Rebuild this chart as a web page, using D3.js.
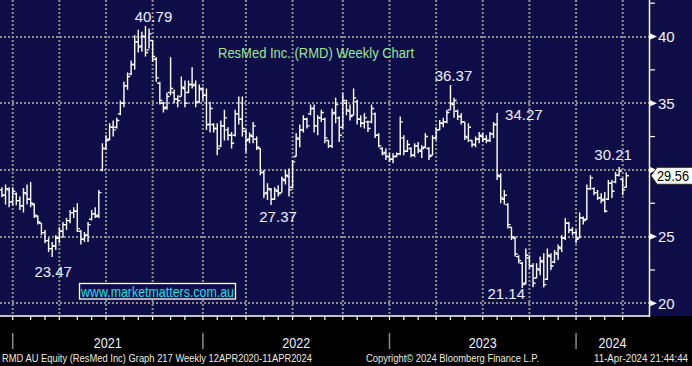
<!DOCTYPE html>
<html><head><meta charset="utf-8">
<script src="https://cdn.jsdelivr.net/npm/d3@7"></script>
<style>html,body{margin:0;padding:0;background:#000;} svg{display:block;}</style>
</head><body>
<svg id="c" width="692" height="366"></svg>
<script>
// ---------------- DATA ----------------
const startDate = "2020-12-11";   // first weekly bar (Friday)
const highs = [28.7,28.9,28.7,28.7,28.3,28.0,28.65,28.9,29.1,27.5,26.6,26.0,25.5,24.9,24.6,25.1,25.7,26.1,26.4,27.0,27.2,27.5,25.5,25.35,26.1,27.0,27.2,28.5,32.0,32.6,33.5,33.7,33.9,35.2,36.6,37.3,38.2,40.1,40.5,40.35,40.79,40.6,39.7,38.45,36.6,35.1,35.8,38.45,36.0,35.6,37.0,36.7,36.7,37.7,36.7,36.4,36.2,36.1,35.1,33.5,33.5,33.7,34.5,33.2,32.85,34.5,35.5,35.5,33.0,32.8,33.6,32.5,31.65,30.0,29.0,28.65,28.7,28.85,29.5,30.0,30.1,30.75,32.75,33.4,34.1,33.9,34.9,34.9,34.1,34.5,33.9,32.25,34.6,35.4,34.0,35.75,35.25,34.9,36.1,35.25,34.1,34.25,33.7,34.9,34.3,32.75,31.7,31.6,31.25,31.25,31.3,34.0,32.6,32.25,31.7,32.0,32.1,31.85,32.75,31.7,32.6,33.2,33.75,33.9,34.5,36.37,35.4,34.5,34.25,33.6,33.5,32.25,32.5,32.85,32.75,32.6,32.85,33.6,34.27,29.75,28.5,27.5,25.7,25.0,23.6,23.1,24.1,23.6,23.0,23.0,23.5,23.75,24.1,23.75,24.0,24.4,25.1,26.4,26.1,25.7,25.5,26.8,26.5,28.9,29.6,28.7,28.5,28.25,28.35,29.25,29.25,29.85,30.21,29.4,29.8];
const lows = [27.95,27.4,27.2,27.35,27.35,27.0,26.8,27.4,27.2,26.4,25.9,25.1,24.5,23.85,23.47,24.0,24.5,24.9,25.5,26.0,26.4,25.35,24.4,24.6,24.6,26.2,26.4,26.4,29.9,31.5,32.2,32.5,33.1,34.1,34.7,36.0,37.1,37.5,38.8,38.85,38.5,39.1,38.1,36.6,34.9,34.3,34.5,35.6,35.0,34.7,35.5,34.7,35.75,36.1,34.7,35.0,35.2,33.0,32.8,32.8,31.1,31.7,32.2,32.2,31.6,32.5,33.4,32.5,31.3,32.0,32.0,31.5,29.6,27.9,27.75,27.37,27.75,28.0,28.3,28.9,28.0,28.65,31.0,31.7,32.8,33.1,34.1,32.8,32.6,33.6,32.0,31.65,31.65,33.5,32.1,33.1,34.1,33.7,34.1,33.4,33.2,33.1,32.85,33.5,32.4,31.7,31.1,30.75,30.6,30.5,30.95,31.1,31.1,31.35,30.95,30.95,31.25,30.9,31.65,30.75,31.1,32.25,33.0,33.2,33.5,34.5,33.9,33.75,33.4,32.25,32.1,31.7,31.7,32.0,32.1,32.0,32.1,32.4,29.25,27.5,27.4,25.6,24.75,23.5,23.0,21.14,21.4,22.6,21.2,21.9,22.1,21.2,21.75,22.5,23.0,23.25,23.85,24.75,25.25,25.1,24.5,24.9,25.9,26.25,28.5,28.1,27.75,27.5,26.8,27.75,27.9,29.0,29.5,28.1,28.7];
const opens = [28.5,28.1,28.5,27.6,28.2,27.7,27.3,28.2,27.8,27.4,26.5,26.0,25.3,24.7,24.1,24.3,24.9,25.4,25.9,26.2,26.8,26.9,25.4,24.8,25.1,26.3,26.7,26.6,30.0,31.6,32.3,33.2,33.2,34.2,35.0,36.3,37.2,37.9,39.6,39.3,40.0,39.0,39.7,38.3,36.5,35.0,34.7,35.8,35.8,35.3,35.5,36.1,35.8,36.4,36.4,35.1,36.0,35.6,33.4,33.4,33.1,31.8,33.3,33.0,32.6,32.6,34.2,33.8,32.9,32.3,32.5,32.3,31.6,29.8,28.3,28.5,27.8,28.4,28.3,29.2,29.5,28.7,31.0,32.3,33.0,33.8,34.2,34.6,33.3,33.9,33.8,32.2,31.8,34.3,33.9,33.2,35.0,34.4,34.1,35.1,33.8,33.5,33.6,33.6,34.2,32.6,31.6,31.3,31.0,30.8,31.0,31.2,32.4,31.4,31.6,31.1,31.8,31.4,31.7,31.6,31.1,32.4,33.0,33.5,33.6,34.5,34.9,34.4,34.0,33.6,32.4,32.2,31.9,32.3,32.5,32.3,32.2,32.7,33.4,29.5,27.8,27.4,25.7,24.9,23.5,23.0,21.5,23.4,22.8,21.9,22.5,23.1,21.8,23.5,23.1,23.7,24.1,24.9,26.0,25.5,25.3,24.9,26.4,26.3,28.6,28.6,28.3,27.9,27.8,27.8,29.0,29.1,29.6,29.3,28.7];
const closes = [28.1,28.6,27.6,28.4,27.7,27.3,28.3,27.8,27.5,26.6,26.1,25.3,24.7,24.1,24.3,24.9,25.4,25.9,26.2,26.8,26.9,25.6,24.8,25.1,25.9,26.7,26.5,28.3,31.6,32.2,33.2,33.0,33.7,35.0,36.3,37.0,37.9,39.6,39.2,40.0,38.8,40.2,38.5,36.9,35.2,34.6,35.5,36.1,35.3,35.2,36.2,35.0,36.4,36.3,35.1,36.1,35.6,33.4,34.6,33.1,31.6,33.3,33.9,32.6,32.0,34.2,33.8,33.1,32.2,32.6,33.3,31.7,29.8,28.2,28.6,27.8,28.5,28.2,29.3,29.6,28.5,30.6,32.4,33.0,33.8,33.3,34.6,33.3,33.9,34.3,32.4,31.8,34.2,34.9,32.6,35.2,34.5,34.0,35.4,33.8,33.5,33.9,33.1,34.6,32.6,31.8,31.2,31.0,30.8,31.0,31.2,33.6,31.4,31.9,31.1,31.8,31.5,31.6,32.5,31.0,32.4,33.0,33.5,33.6,34.3,35.0,35.2,34.0,33.6,32.5,33.2,31.9,32.3,32.6,32.3,32.2,32.7,33.4,29.6,27.9,28.1,25.9,25.0,23.7,23.2,21.4,23.6,22.8,21.5,22.6,23.2,21.4,23.6,22.8,23.8,24.2,24.9,26.0,25.5,25.3,24.8,26.4,26.2,28.6,29.4,28.3,27.9,27.7,26.9,29.0,28.4,29.6,29.9,28.5,29.56];

const yTicks = [20, 25, 30, 35, 40];
const yLabelTicks = [20, 25, 35, 40];   // 30 sits under the last-price box
const yMinorTicks = [22.5, 27.5, 32.5, 37.5, 42.5];
const years = [2021, 2022, 2023, 2024];
const annotations = [
  {i: 40,  text: "40.79", at: "high"},
  {i: 14,  text: "23.47", at: "low"},
  {i: 75,  text: "27.37", at: "low"},
  {i: 125, text: "36.37", at: "high"},
  {i: 138, text: "34.27", at: "high"},
  {i: 145, text: "21.14", at: "low"},
  {i: 172, text: "30.21", at: "high"}
];
const lastPrice = 29.56;
const chartTitle = "ResMed Inc. (RMD) Weekly Chart";
const website = "www.marketmatters.com.au";
const footerLeft = "RMD AU Equity (ResMed Inc) Graph 217  Weekly 12APR2020-11APR2024";
const footerMid = "Copyright\u00A9 2024 Bloomberg Finance L.P.";
const footerRight = "11-Apr-2024 21:44:44";

// ---------------- LAYOUT / STYLE ----------------
const W = 692, H = 366, plotR = 649, plotB = 316;
const NAVY = "#0e0d47";
const annLayout = {
  "40.79": {dx: 8, dy: -4, anchor: "middle"},
  "23.47": {dx: 1, dy: 20, anchor: "middle"},
  "27.37": {dx: 7, dy: 17, anchor: "middle"},
  "36.37": {dx: 3, dy: -4, anchor: "middle"},
  "34.27": {dx: 8, dy: 7, anchor: "start"},
  "21.14": {dx: -16, dy: 11, anchor: "middle"},
  "30.21": {dx: -6, dy: -7, anchor: "middle"}
};

const parse = d3.utcParse("%Y-%m-%d");
const t0 = parse(startDate);
const dates = highs.map((_, i) => d3.utcDay.offset(t0, 7 * i));
const bars = dates.map((d, i) => ({d, o: opens[i], h: highs[i], l: lows[i], c: closes[i]}));

const x = d3.scaleUtc().domain([dates[0], dates[dates.length - 1]]).range([1.94, 626.3]);
const y = d3.scaleLinear().domain([20, 40]).range([303.3, 36.5]);

// snap a calendar date to the first weekly bar on/after it
function snap(dt) {
  const b = dates.find(d => d >= dt);
  return b ? x(b) : null;
}

const svg = d3.select("#c");
svg.append("rect").attr("width", W).attr("height", H).attr("fill", "#000");
svg.append("rect").attr("width", W).attr("height", plotB).attr("fill", NAVY);

const font = "'Liberation Sans', Arial, sans-serif";

// grid
const grid = svg.append("g").attr("stroke", "#8f8f8f").attr("stroke-width", 2).attr("stroke-dasharray", "2,2");
grid.selectAll("line.h").data(yTicks).join("line")
  .attr("x1", 0).attr("x2", plotR).attr("y1", d => Math.round(y(d))).attr("y2", d => Math.round(y(d)));
const quarters = d3.utcMonth.every(3).range(new Date(Date.UTC(2021, 0, 1)), new Date(Date.UTC(2024, 6, 1)));
const qx = quarters.map(snap).filter(v => v !== null && v < plotR);
grid.selectAll("line.v").data(qx).join("line")
  .attr("x1", d => d).attr("x2", d => d).attr("y1", 0).attr("y2", plotB);

// OHLC bars
const bg = svg.append("g").attr("stroke", "#fff").attr("stroke-width", 1.4).attr("fill", "none");
bg.selectAll("path").data(bars).join("path")
  .attr("d", b => {
    const xx = x(b.d);
    return `M${xx},${y(b.h)}V${y(b.l)}M${xx - 2.6},${y(b.o)}H${xx}M${xx},${y(b.c)}H${xx + 2.6}`;
  });

// axes lines
svg.append("line").attr("x1", plotR + 0.5).attr("x2", plotR + 0.5).attr("y1", 0).attr("y2", plotB + 1)
  .attr("stroke", "#fff").attr("stroke-width", 1.5);
svg.append("line").attr("x1", 0).attr("x2", plotR + 1).attr("y1", plotB).attr("y2", plotB)
  .attr("stroke", "#fff").attr("stroke-width", 1.5);

// right axis
const ra = svg.append("g");
ra.selectAll("line.mn").data(yMinorTicks).join("line")
  .attr("x1", plotR).attr("x2", plotR + 6).attr("y1", d => y(d)).attr("y2", d => y(d))
  .attr("stroke", "#fff").attr("stroke-width", 1.2);
ra.selectAll("path.tri").data(yTicks).join("path")
  .attr("d", d => `M${plotR},${y(d) - 3.5}L${plotR + 8},${y(d)}L${plotR},${y(d) + 3.5}Z`)
  .attr("fill", "#fff");
ra.selectAll("text").data(yLabelTicks).join("text")
  .attr("x", plotR + 9).attr("y", d => y(d) + 5.5)
  .attr("fill", "#eef0ff").attr("font-family", font).attr("font-size", 15)
  .text(d => d);

// month ticks on x axis
const months = d3.utcMonth.range(new Date(Date.UTC(2021, 0, 1)), new Date(Date.UTC(2024, 5, 1)));
const mx = months.map(snap).filter(v => v !== null && v < plotR);
svg.append("g").selectAll("line").data(mx).join("line")
  .attr("x1", d => d).attr("x2", d => d).attr("y1", plotB).attr("y2", plotB + 4)
  .attr("stroke", "#fff").attr("stroke-width", 1.2);

// year separators and labels
const yearStarts = years.map(yv => snap(new Date(Date.UTC(yv, 0, 1))));
svg.append("g").selectAll("line").data(yearStarts).join("line")
  .attr("x1", d => d).attr("x2", d => d).attr("y1", 333).attr("y2", 349)
  .attr("stroke", "#8a8a8a").attr("stroke-width", 1.5);
svg.append("g").selectAll("text").data(years).join("text")
  .attr("x", (d, k) => (yearStarts[k] + (k + 1 < yearStarts.length ? yearStarts[k + 1] : plotR)) / 2)
  .attr("y", 347.5).attr("text-anchor", "middle")
  .attr("fill", "#eef0f4").attr("font-family", font).attr("font-size", 15)
  .attr("textLength", 28).attr("lengthAdjust", "spacingAndGlyphs")
  .text(d => d);

// annotations
svg.append("g").selectAll("text").data(annotations).join("text")
  .attr("x", a => x(dates[a.i]) + annLayout[a.text].dx)
  .attr("y", a => y(a.at === "high" ? highs[a.i] : lows[a.i]) + annLayout[a.text].dy)
  .attr("text-anchor", a => annLayout[a.text].anchor)
  .attr("fill", "#eef0ff").attr("font-family", font).attr("font-size", 15)
  .text(a => a.text);

// title
svg.append("text").attr("x", 218).attr("y", 58).attr("fill", "#98e898")
  .attr("font-family", font).attr("font-size", 14)
  .attr("textLength", 196).attr("lengthAdjust", "spacingAndGlyphs").text(chartTitle);

// website box
svg.append("rect").attr("x", 79.5).attr("y", 283.5).attr("width", 156).attr("height", 15.5)
  .attr("fill", NAVY).attr("stroke", "#fff").attr("stroke-width", 1.3);
svg.append("text").attr("x", 81).attr("y", 296.5).attr("fill", "#18e0f0")
  .attr("font-family", font).attr("font-size", 15)
  .attr("textLength", 153).attr("lengthAdjust", "spacingAndGlyphs").text(website);

// last price box
const py = y(lastPrice);
svg.append("path")
  .attr("d", `M${plotR + 2},${py}L${plotR + 8},${py - 8.5}H${W + 2}V${py + 8.5}H${plotR + 8}Z`)
  .attr("fill", "#fff").attr("stroke", "#222").attr("stroke-width", 1);
svg.append("text").attr("x", plotR + 8).attr("y", py + 5).attr("fill", "#000")
  .attr("font-family", font).attr("font-size", 14)
  .attr("textLength", 32).attr("lengthAdjust", "spacingAndGlyphs").text(lastPrice.toFixed(2));

// footer
const ff = svg.append("g").attr("fill", "#ececdc").attr("font-family", font).attr("font-size", 10);
ff.append("text").attr("x", 2).attr("y", 362).attr("textLength", 310).attr("lengthAdjust", "spacingAndGlyphs").text(footerLeft);
ff.append("text").attr("x", 366).attr("y", 362).attr("textLength", 173).attr("lengthAdjust", "spacingAndGlyphs").text(footerMid);
ff.append("text").attr("x", 594).attr("y", 362).attr("textLength", 94).attr("lengthAdjust", "spacingAndGlyphs").text(footerRight);
</script>
</body></html>
